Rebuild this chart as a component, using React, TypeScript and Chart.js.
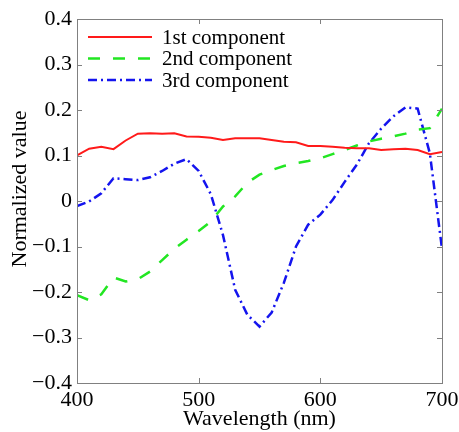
import React, { useEffect, useRef } from "react";
import { Chart, registerables } from "chart.js";

Chart.register(...registerables);

const wavelengths = [400, 410, 420, 430, 440, 450, 460, 470, 480, 490, 500, 510, 520, 530, 540, 550, 560, 570, 580, 590, 600, 610, 620, 630, 640, 650, 660, 670, 680, 690, 700];

const comp1 = [0.100, 0.115, 0.119, 0.114, 0.133, 0.148, 0.149, 0.148, 0.149, 0.142, 0.141, 0.139, 0.134, 0.138, 0.138, 0.138, 0.134, 0.130, 0.129, 0.121, 0.121, 0.119, 0.117, 0.116, 0.116, 0.112, 0.114, 0.115, 0.112, 0.103, 0.108];

const comp2 = [-0.207, -0.218, -0.205, -0.168, -0.177, -0.172, -0.155, -0.130, -0.105, -0.085, -0.066, -0.045, -0.012, 0.010, 0.040, 0.058, 0.068, 0.077, 0.083, 0.088, 0.094, 0.103, 0.112, 0.122, 0.131, 0.137, 0.142, 0.148, 0.157, 0.160, 0.203];

const comp3 = [-0.011, -0.001, 0.017, 0.050, 0.048, 0.046, 0.052, 0.066, 0.082, 0.092, 0.066, 0.015, -0.075, -0.195, -0.250, -0.276, -0.245, -0.180, -0.100, -0.052, -0.030, 0.002, 0.042, 0.080, 0.127, 0.159, 0.186, 0.206, 0.203, 0.105, -0.105];

const seriesLabels = ["1st component", "2nd component", "3rd component"];
const xTickValues = [400, 500, 600, 700];
const yTickValues = [-0.4, -0.3, -0.2, -0.1, 0, 0.1, 0.2, 0.3, 0.4];
const xTitle = "Wavelength (nm)";
const yTitle = "Normalized value";

const FONT = "'Liberation Serif', 'DejaVu Serif', serif";
const FRAME = "#808080";

const toPoints = (ys: number[]) => wavelengths.map((x, i) => ({ x, y: ys[i] }));

const frameAndLegend = {
  id: "frameAndLegend",
  afterDraw(chart: any) {
    const ctx = chart.ctx;
    const { left, right, top, bottom } = chart.chartArea;
    const xs = chart.scales.x;
    const ys = chart.scales.y;
    ctx.save();
    ctx.strokeStyle = FRAME;
    ctx.lineWidth = 1;
    ctx.strokeRect(Math.round(left) + 0.5, Math.round(top) + 0.5, Math.round(right - left), Math.round(bottom - top));
    const tl = 5;
    ctx.beginPath();
    for (const v of xTickValues) {
      const px = Math.round(xs.getPixelForValue(v)) + 0.5;
      ctx.moveTo(px, bottom);
      ctx.lineTo(px, bottom - tl);
      ctx.moveTo(px, top);
      ctx.lineTo(px, top + tl);
    }
    for (const v of yTickValues) {
      const py = Math.round(ys.getPixelForValue(v)) + 0.5;
      ctx.moveTo(left, py);
      ctx.lineTo(left + tl, py);
      ctx.moveTo(right, py);
      ctx.lineTo(right - tl, py);
    }
    ctx.stroke();

    // y-axis title
    ctx.fillStyle = "#000";
    ctx.font = `22px ${FONT}`;
    ctx.textAlign = "center";
    ctx.textBaseline = "middle";
    ctx.save();
    ctx.translate(20, 189);
    ctx.rotate(-Math.PI / 2);
    ctx.fillText(yTitle, 0, 0);
    ctx.restore();

    // legend inside plot area
    chart.data.datasets.forEach((ds: any, i: number) => {
      const y = top + 18 + i * 21.5;
      ctx.beginPath();
      ctx.strokeStyle = ds.borderColor;
      ctx.lineWidth = ds.borderWidth;
      ctx.setLineDash(ds.borderDash || []);
      ctx.moveTo(left + 11, y);
      ctx.lineTo(left + 75, y);
      ctx.stroke();
      ctx.setLineDash([]);
      ctx.fillStyle = "#000";
      ctx.font = `21px ${FONT}`;
      ctx.textBaseline = "middle";
      ctx.textAlign = "left";
      ctx.fillText(ds.label, left + 85, y + 1);
    });
    ctx.restore();
  },
};

export default function App() {
  const ref = useRef<HTMLCanvasElement | null>(null);
  useEffect(() => {
    if (!ref.current) return;
    const chart = new Chart(ref.current, {
      type: "line",
      data: {
        datasets: [
          {
            label: seriesLabels[0],
            data: toPoints(comp1),
            borderColor: "#ff1a1a",
            borderWidth: 2,
            pointRadius: 0,
            fill: false,
          },
          {
            label: seriesLabels[1],
            data: toPoints(comp2),
            borderColor: "#22e622",
            borderWidth: 2.5,
            borderDash: [12, 13],
            pointRadius: 0,
            fill: false,
          },
          {
            label: seriesLabels[2],
            data: toPoints(comp3),
            borderColor: "#1414ee",
            borderWidth: 2.5,
            borderDash: [9, 4, 2, 4],
            pointRadius: 0,
            fill: false,
          },
        ],
      },
      options: {
        responsive: false,
        animation: false,
        layout: { padding: { top: 19, right: 17, left: 0, bottom: 0 } },
        plugins: { legend: { display: false }, tooltip: { enabled: false } },
        scales: {
          x: {
            type: "linear",
            min: 400,
            max: 700,
            afterBuildTicks: (scale: any) => {
              scale.ticks = xTickValues.map((v) => ({ value: v }));
            },
            grid: { display: false, drawTicks: false },
            border: { display: false },
            ticks: {
              color: "#000",
              font: { family: FONT, size: 22 },
              padding: 4,
              maxRotation: 0,
              autoSkip: false,
            },
            title: {
              display: true,
              text: xTitle,
              color: "#000",
              font: { family: FONT, size: 22 },
              padding: { top: 0, bottom: 0 },
            },
            afterFit: (scale: any) => {
              scale.height = 49;
              scale.paddingLeft = 0;
              scale.paddingRight = 0;
            },
          },
          y: {
            type: "linear",
            min: -0.4,
            max: 0.4,
            afterBuildTicks: (scale: any) => {
              scale.ticks = yTickValues.map((v) => ({ value: v }));
            },
            grid: { display: false, drawTicks: false },
            border: { display: false },
            ticks: {
              color: "#000",
              font: { family: FONT, size: 22 },
              padding: 5,
              autoSkip: false,
              callback: (v: any) => {
                const n = Math.round(Number(v) * 10) / 10;
                if (n === 0) return "0";
                const s = Math.abs(n).toFixed(1);
                return n < 0 ? "\u2212" + s : s;
              },
            },
            afterFit: (scale: any) => {
              scale.width = 77;
              scale.paddingTop = 0;
              scale.paddingBottom = 0;
            },
          },
        },
      },
      plugins: [frameAndLegend],
    });
    return () => chart.destroy();
  }, []);
  return (
    <div style={{ position: "absolute", left: 0, top: 0, width: 459, height: 432 }}>
      <canvas ref={ref} width={459} height={432} style={{ display: "block" }} />
    </div>
  );
}
